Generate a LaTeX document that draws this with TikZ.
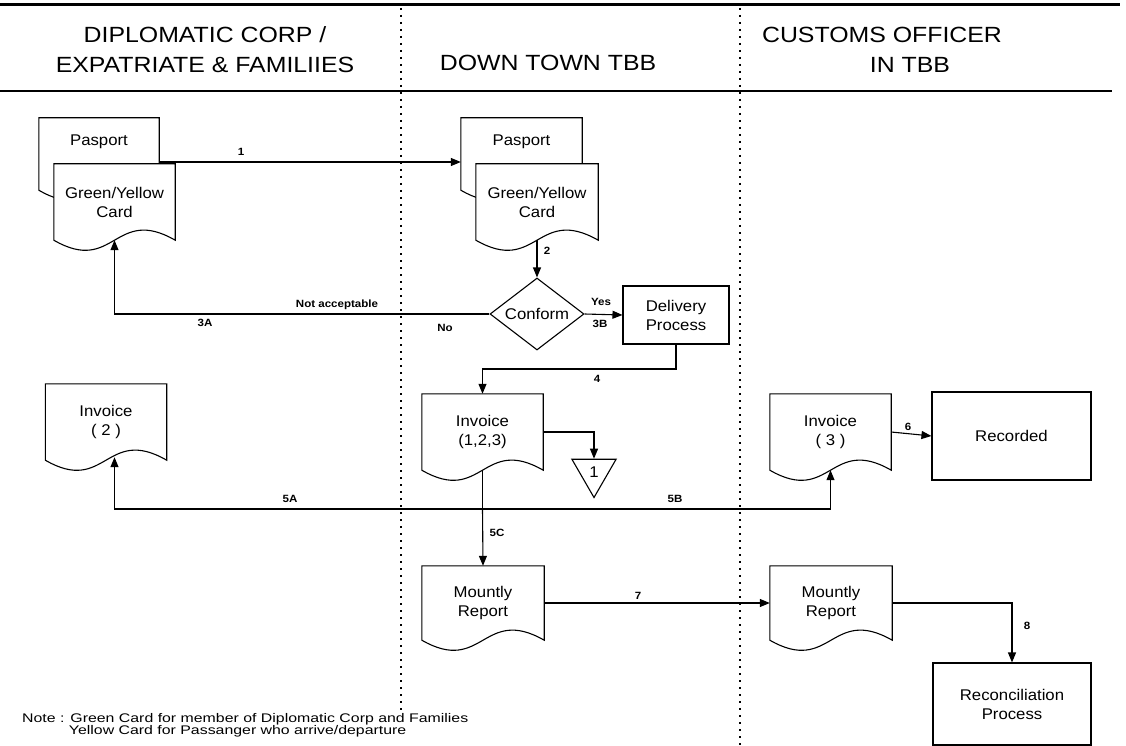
\documentclass[tikz,border=0pt]{standalone}
\usepackage{fontspec}
\setmainfont{Liberation Sans}
\newfontfamily\hdrfont[FakeStretch=1.13]{Liberation Sans}
\newfontfamily\boxfont[FakeStretch=1.08]{Liberation Sans}
\newfontfamily\lblfont[FakeStretch=1.1]{Liberation Sans}
\newfontfamily\notefont[FakeStretch=1.27]{Liberation Sans}
\usetikzlibrary{arrows.meta,shapes.geometric,calc}
\pgfdeclarelayer{docs}
\pgfsetlayers{docs,main}
\newcommand\docshape[2][35]{%
  \begin{pgfonlayer}{docs}
  \draw[docline] (#2.south west) -- (#2.north west) -- (#2.north east) -- (#2.south east)
    .. controls ($(#2.south)+(0,-#1)$) and ($(#2.south)+(0,#1)$) .. (#2.south west) -- cycle;
  \end{pgfonlayer}}
\begin{document}
\begin{tikzpicture}[x=1pt,y=-1pt,
  docline/.style={draw=black,line width=1.1pt,fill=white},
  docnode/.style={rectangle,inner sep=0pt,minimum width=121pt,minimum height=76pt,align=center,
    font=\boxfont\fontsize{15.5}{19}\selectfont},
  procbox/.style={rectangle,draw=black,line width=1.1pt,inner sep=0pt,align=center,
    font=\boxfont\fontsize{15.5}{19}\selectfont},
  hdr/.style={inner sep=0pt,align=center,font=\hdrfont\fontsize{22}{30}\selectfont},
  lbl/.style={inner sep=0pt,font=\lblfont\bfseries\fontsize{10.5}{12}\selectfont},
  arr/.style={draw=black,line width=1.1pt,-{Triangle[length=10pt,width=8pt]}},
  plain/.style={draw=black,line width=1.1pt},
  dotline/.style={draw=black,line width=1.7pt,dash pattern=on 1.7pt off 5.3pt},
]
\useasboundingbox (0,0) rectangle (1126,746);

% frame lines
\draw[line width=3pt] (0,5) -- (1120,5);
\draw[line width=1.5pt] (0,91) -- (1112,91);
\draw[dotline] (401,8) -- (401,712);
\draw[dotline] (740,8) -- (740,746);

% headers
\node[hdr] (h1) at (205,50) {DIPLOMATIC CORP /\\EXPATRIATE \& FAMILIIES};
\node[hdr] (h2) at (548,63) {DOWN TOWN TBB};
\node[hdr] (h3a) at (882,35) {CUSTOMS OFFICER};
\node[hdr] (h3b) at (910,65) {IN TBB};

% left lane
\node[docnode,minimum width=120pt,minimum height=72pt] (lpas) at (99,154) {Pasport\\[8pt]};
\node[docnode] (lcard) at (114.5,202) {Green/Yellow\\Card};
\node[docnode] (inv2) at (106,422) {Invoice\\( 2 )};

% middle lane
\node[docnode,minimum height=72pt] (mpas) at (521.5,154) {Pasport\\[8pt]};
\node[docnode,minimum width=122pt] (mcard) at (537,202) {Green/Yellow\\Card};
\node[diamond,draw=black,line width=1.1pt,inner sep=0pt,aspect=1.27,minimum width=94pt,minimum height=72pt,
  font=\boxfont\fontsize{15.5}{19}\selectfont] (conform) at (537,314) {Conform};
\node[procbox,minimum width=106pt,minimum height=58pt] (deliv) at (676,315) {Delivery\\Process};
\node[docnode] (inv123) at (482.5,432) {Invoice\\(1,2,3)};
\node[regular polygon,regular polygon sides=3,shape border rotate=180,draw=black,line width=1.1pt,
  inner sep=0pt,minimum size=51pt,font=\boxfont\fontsize{15.5}{19}\selectfont] (tri) at (594,472) {1};
\node[docnode,minimum width=122pt,minimum height=74pt] (mrep) at (483,603) {Mountly\\Report};

% right lane
\node[docnode] (inv3) at (830.5,432) {Invoice\\( 3 )};
\node[procbox,minimum width=159pt,minimum height=88pt] (rec) at (1011.5,436) {Recorded};
\node[docnode,minimum width=122pt,minimum height=74pt] (rrep) at (831,603) {Mountly\\Report};
\node[procbox,minimum width=158pt,minimum height=82pt] (recon) at (1012,704) {Reconciliation\\Process};

% document outlines (back first)
\docshape{lpas}
\docshape{lcard}
\docshape{inv2}
\docshape{mpas}
\docshape{mcard}
\docshape{inv123}
\docshape{mrep}
\docshape{inv3}
\docshape{rrep}

% helper coordinates
\coordinate (c4) at (676,369);
\coordinate (j5) at (482.5,509);

% connectors
\draw[arr] ([yshift=-8pt]lpas.east) -- ([yshift=-8pt]mpas.west);
\draw[arr] (mcard.south) -- (conform.north);
\draw[arr] (conform.west) -| (lcard.south);
\draw[arr] (conform.east) -- (deliv.west);
\draw[arr] (deliv.south) -- (c4) -| (inv123.north);
\draw[arr] (inv123.east) -| (tri.north);
\draw[plain] (inv123.south) -- (j5);
\draw[arr] (j5) -| ([yshift=3pt]inv2.south -| lcard.south);
\draw[arr] (j5) -| (inv3.south);
\draw[arr] (j5) -- (mrep.north);
\draw[arr] (inv3.east) -- (rec.west);
\draw[arr] (mrep.east) -- (rrep.west);
\draw[arr] (rrep.east) -| (recon.north);

% connector labels
\node[lbl] (t1) at (241,152) {1};
\node[lbl] (t2) at (547,251) {2};
\node[lbl] (tna) at (337,305) {Not acceptable};
\node[lbl] (t3a) at (205,323) {3A};
\node[lbl] (tno) at (445,328) {No};
\node[lbl] (tyes) at (601,302) {Yes};
\node[lbl] (t3b) at (600,324) {3B};
\node[lbl] (t4) at (597,379) {4};
\node[lbl] (t5a) at (290,499) {5A};
\node[lbl] (t5b) at (675,499) {5B};
\node[lbl] (t5c) at (497,533) {5C};
\node[lbl] (t6) at (908,427) {6};
\node[lbl] (t7) at (638,596) {7};
\node[lbl] (t8) at (1027,626) {8};

% note
\node[inner sep=0pt,anchor=north west,align=left,font=\notefont\fontsize{12.5}{12.5}\selectfont] (note) at (22,713)
  {Note : Green Card for member of Diplomatic Corp and Families\\
   \phantom{Note :\ }Yellow Card for Passanger who arrive/departure};
\end{tikzpicture}
\end{document}
